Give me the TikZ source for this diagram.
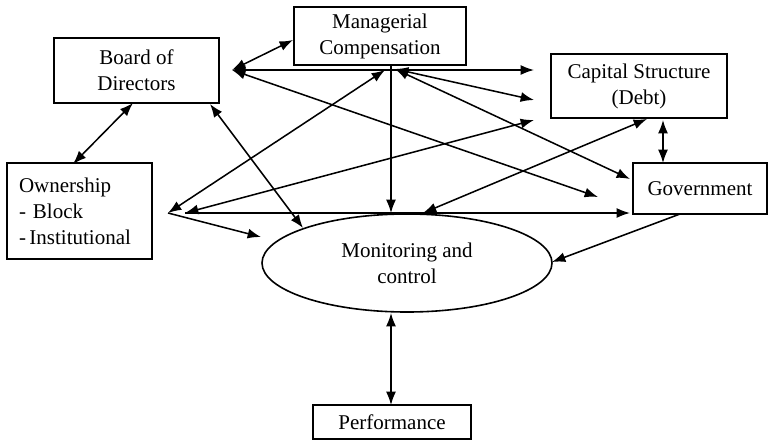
\documentclass[tikz,border=0pt]{standalone}
\usepackage{fontspec}
\setmainfont{Liberation Serif}
\usetikzlibrary{arrows.meta,shapes.geometric}
\tikzset{
  box/.style={draw, line width=1.2pt, rectangle, inner sep=0pt, align=center, font=\fontsize{15.75}{19.5}\selectfont},
  oval/.style={draw, line width=1.2pt, ellipse, inner sep=0pt, align=center, font=\fontsize{15.75}{19.5}\selectfont},
  conn/.style={line width=1.15pt, >={Latex[length=10pt,width=7.5pt]}},
}
\begin{document}
\begin{tikzpicture}[x=0.75pt, y=-0.75pt]
\useasboundingbox (0,0) rectangle (769,440);
% nodes
\node[box, minimum width=123.75pt, minimum height=48.75pt] (board) at (136.5,70.5) {Board of\\Directors};
\node[box, minimum width=129pt, minimum height=43.5pt] (mgr) at (380,36) {Managerial\\Compensation};
\node[box, minimum width=132pt, minimum height=48pt] (cap) at (639,86) {Capital Structure\\(Debt)};
\node[box, minimum width=100.5pt, minimum height=38.25pt] (gov) at (700,188.5) {Government};
\node[box, align=left, text width=90.75pt, inner xsep=9pt, minimum height=72pt] (own) at (79.5,211) {Ownership\\- Block\\-\,Institutional};
\node[oval, minimum width=217.5pt, minimum height=73.5pt] (mon) at (407,263) {Monitoring and\\control};
\node[box, minimum width=118.5pt, minimum height=25.5pt] (perf) at (392,422) {Performance};
% hub and tip coordinates
\coordinate (bh) at (232,70);
\coordinate (mh1) at (385,70);
\coordinate (mh2) at (395,69);
\coordinate (oh1) at (168,213);
\coordinate (oh2) at (185,213);
\coordinate (bs) at (133,103);
\coordinate (on) at (73,164);
\coordinate (mw) at (293,40);
\coordinate (capa) at (534,70);
\coordinate (capb) at (534,100);
\coordinate (capc) at (534,120);
\coordinate (capd) at (647,119);
\coordinate (cape) at (663,120);
\coordinate (govn) at (663,163);
\coordinate (gova) at (598,197);
\coordinate (govb) at (630,179);
\coordinate (govc) at (630,213);
\coordinate (govs) at (680,214);
\coordinate (bse) at (210,104);
\coordinate (mona) at (303,228);
\coordinate (monb) at (261,237);
\coordinate (monc) at (391,213);
\coordinate (mond) at (423,213);
\coordinate (mone) at (552,262);
\coordinate (mgrb) at (391,66);
\coordinate (monbot) at (391,313);
\coordinate (perft) at (391,405);
% connectors
\draw[conn,<->] (bs) -- (on);
\draw[conn,<->] (bh) -- (mw);
\draw[conn,<->] (bh) -- (capa);
\draw[conn,<->] (bh) -- (gova);
\draw[conn,<->] (bse) -- (mona);
\draw[conn,<->] (oh1) -- (mh1);
\draw[conn,->] (mgrb) -- (monc);
\draw[conn,<->] (mh2) -- (capb);
\draw[conn,<->] (mh2) -- (govb);
\draw[conn,<->] (oh2) -- (capc);
\draw[conn,->] (oh2) -- (govc);
\draw[conn,->] (oh1) -- (monb);
\draw[conn,<->] (mond) -- (capd);
\draw[conn,<->] (cape) -- (govn);
\draw[conn,->] (govs) -- (mone);
\draw[conn,<->] (monbot) -- (perft);
\end{tikzpicture}
\end{document}
